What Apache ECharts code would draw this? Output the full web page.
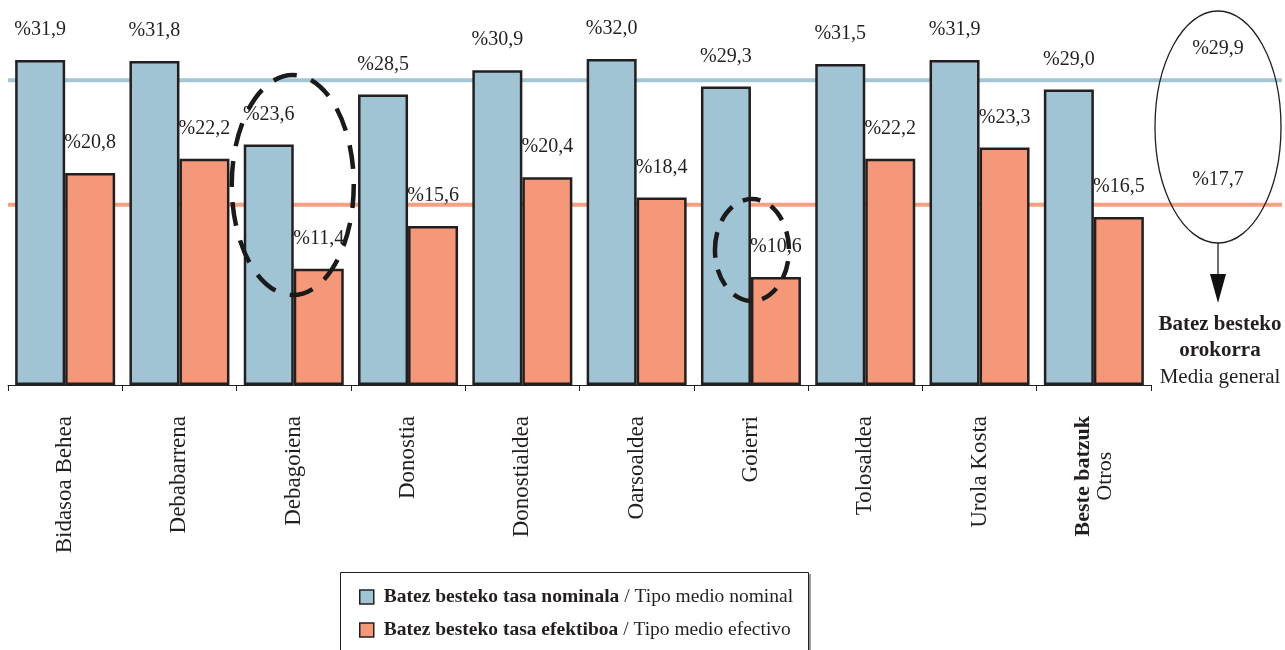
<!DOCTYPE html>
<html><head><meta charset="utf-8">
<script src="https://cdn.jsdelivr.net/npm/echarts@6/dist/echarts.min.js"></script>
<style>html,body{margin:0;padding:0;background:#fff}#c{width:1285px;height:650px}</style>
</head><body><div id="c"></div>
<script>
const categories = ['Bidasoa Behea','Debabarrena','Debagoiena','Donostia','Donostialdea','Oarsoaldea','Goierri','Tolosaldea','Urola Kosta','Beste batzuk\nOtros'];
const nominal = [31.9,31.8,23.6,28.5,30.9,32.0,29.3,31.5,31.9,29.0];
const efectivo = [20.8,22.2,11.4,15.6,20.4,18.4,10.6,22.2,23.3,16.5];
const avgNominal = 29.9;
const avgEfectivo = 17.7;
const seriesNames = ['Batez besteko tasa nominala / Tipo medio nominal','Batez besteko tasa efektiboa / Tipo medio efectivo'];
const avgTitle = ['Batez besteko', 'orokorra', 'Media general'];

const BLUE = '#a0c4d4', ORANGE = '#f5987a', INK = '#231f20';
const SERIF = '"Liberation Serif", "Times New Roman", serif';
const fmt = v => '%' + v.toFixed(1).replace('.', ',');

const chart = echarts.init(document.getElementById('c'), null, {renderer:'canvas'});
const barLabel = {show:true, position:'top', distance:20, fontFamily:SERIF, fontSize:20, color:INK,
  formatter: p => fmt(p.value)};
chart.setOption({
  animation:false,
  backgroundColor:'#fff',
  grid:[
    {left:8, right:134, top:8, bottom:265},
    {left:8, right:3, top:8, bottom:265}
  ],
  xAxis:[
    {type:'category', gridIndex:0, data:categories, boundaryGap:true,
     axisLine:{lineStyle:{color:INK, width:1}},
     axisTick:{show:true, length:6, inside:false, lineStyle:{color:INK}},
     axisLabel:{rotate:90, margin:31, fontFamily:SERIF, fontSize:23, color:INK, interval:0,
       formatter: v => {
         const parts = v.split('\n');
         if (parts.length > 1) return '{b|' + parts[0] + '}\n{n|' + parts[1] + '}';
         return '{r|' + v + '}';
       },
       rich:{
         r:{fontFamily:SERIF, fontSize:23, color:INK},
         b:{fontFamily:SERIF, fontSize:22, fontWeight:'bold', color:INK, align:'center', lineHeight:22},
         n:{fontFamily:SERIF, fontSize:22, color:INK, align:'center', lineHeight:22}
       }},
     splitLine:{show:false}},
    {type:'value', gridIndex:1, min:0, max:1, show:false}
  ],
  yAxis:[
    {type:'value', gridIndex:0, min:0, max:37, show:false},
    {type:'value', gridIndex:1, min:0, max:37, show:false}
  ],
  legend:{
    data:seriesNames, orient:'vertical', left:340, top:572,
    padding:[15, 18, 0, 19], itemGap:13, itemWidth:14, itemHeight:14, icon:'rect',
    itemStyle:{borderColor:INK, borderWidth:1.5},
    formatter: name => {
      const p = name.split(' / ');
      return '{b|' + p[0] + '} {n|/ ' + p[1] + '}';
    },
    textStyle:{fontFamily:SERIF, fontSize:19.5, color:INK, padding:[0,0,0,5],
      rich:{
        b:{fontFamily:SERIF, fontSize:19.5, fontWeight:'bold', color:INK, lineHeight:21},
        n:{fontFamily:SERIF, fontSize:19.5, color:INK, lineHeight:21}
      }}
  },
  series:[
    {type:'line', xAxisIndex:1, yAxisIndex:1, data:[[0,avgNominal],[1,avgNominal]], symbol:'none', silent:true,
     lineStyle:{color:'#a3c6d5', width:4}, z:1},
    {type:'line', xAxisIndex:1, yAxisIndex:1, data:[[0,avgEfectivo],[1,avgEfectivo]], symbol:'none', silent:true,
     lineStyle:{color:'#f4a083', width:4}, z:1},
    {type:'bar', name:seriesNames[0], xAxisIndex:0, yAxisIndex:0, data:nominal, barWidth:50, barGap:'0%',
     itemStyle:{color:BLUE, borderColor:INK, borderWidth:2.5}, label:barLabel, z:3},
    {type:'bar', name:seriesNames[1], xAxisIndex:0, yAxisIndex:0, data:efectivo, barWidth:50, barGap:'0%',
     itemStyle:{color:ORANGE, borderColor:INK, borderWidth:2.5}, label:barLabel, z:3}
  ]
});

// Annotations positioned from the library's scales
const px = (cat, v) => chart.convertToPixel({xAxisIndex:0, yAxisIndex:0}, [cat, v]);
const py1 = v => chart.convertToPixel({xAxisIndex:1, yAxisIndex:1}, [1, v]);
const dgo = px('Debagoiena', 0);
const goi = px('Goierri', 0);
const endX = py1(avgNominal)[0];
const cx = endX - 64;
const yN = py1(avgNominal)[1], yE = py1(avgEfectivo)[1];
const dash = {stroke:'#1a1a1a', fill:'none', lineWidth:4.5, lineDash:[24, 15]};
chart.setOption({
  graphic:[
    {type:'rect', shape:{x:340.5, y:572.5, width:468, height:120},
     style:{stroke:INK, fill:'none', lineWidth:1}, z:-1},
    {type:'line', shape:{x1:810, y1:574, x2:810, y2:660}, style:{stroke:'#9a9a9a', lineWidth:2}, z:-1},
    {type:'ellipse', shape:{cx:dgo[0]-1, cy:185, rx:61, ry:110}, style:dash, z:20},
    {type:'ellipse', shape:{cx:goi[0]+1, cy:250, rx:37, ry:51}, style:Object.assign({}, dash, {lineDash:[18, 12]}), z:20},
    {type:'ellipse', shape:{cx:cx, cy:127, rx:63, ry:116}, style:{stroke:INK, fill:'none', lineWidth:1.3}, z:20},
    {type:'text', x:cx, y:yN-32, style:{text:fmt(avgNominal), fontFamily:SERIF, fontSize:20, fill:INK, textAlign:'center', textVerticalAlign:'middle'}, z:21},
    {type:'text', x:cx, y:yE-25, style:{text:fmt(avgEfectivo), fontFamily:SERIF, fontSize:20, fill:INK, textAlign:'center', textVerticalAlign:'middle'}, z:21},
    {type:'line', shape:{x1:cx, y1:243, x2:cx, y2:276}, style:{stroke:INK, lineWidth:1.3}, z:21},
    {type:'polygon', shape:{points:[[cx-8,274],[cx+8,274],[cx,303]]}, style:{fill:'#111'}, z:21},
    {type:'text', x:cx+2, y:325, style:{text:avgTitle[0], fontFamily:SERIF, fontSize:21, fontWeight:'bold', fill:INK, textAlign:'center', textVerticalAlign:'middle'}, z:21},
    {type:'text', x:cx+2, y:351, style:{text:avgTitle[1], fontFamily:SERIF, fontSize:21, fontWeight:'bold', fill:INK, textAlign:'center', textVerticalAlign:'middle'}, z:21},
    {type:'text', x:cx+2, y:377, style:{text:avgTitle[2], fontFamily:SERIF, fontSize:21, fill:INK, textAlign:'center', textVerticalAlign:'middle'}, z:21}
  ]
});
</script>
</body></html>
